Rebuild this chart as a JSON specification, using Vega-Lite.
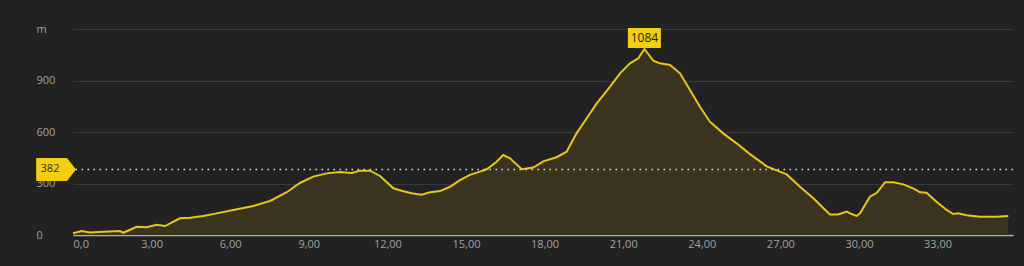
{
  "$schema": "https://vega.github.io/schema/vega-lite/v6.json",
  "width": 940,
  "height": 206,
  "autosize": {"type": "none"},
  "padding": {"left": 73, "top": 29, "right": 11, "bottom": 31},
  "background": "#222222",
  "config": {
    "view": {"stroke": null},
    "font": "Open Sans"
  },
  "datasets": {
    "profile": [
      {"km": 0, "elev": 10}, {"km": 0.33, "elev": 23}, {"km": 0.65, "elev": 14}, {"km": 1.16, "elev": 19},
      {"km": 1.79, "elev": 23}, {"km": 1.92, "elev": 13}, {"km": 2.43, "elev": 48}, {"km": 2.81, "elev": 45},
      {"km": 3.19, "elev": 60}, {"km": 3.51, "elev": 52}, {"km": 4.08, "elev": 97}, {"km": 4.47, "elev": 101},
      {"km": 4.97, "elev": 111}, {"km": 5.48, "elev": 126}, {"km": 6.12, "elev": 146}, {"km": 6.88, "elev": 169},
      {"km": 7.52, "elev": 198}, {"km": 8.16, "elev": 249}, {"km": 8.66, "elev": 303}, {"km": 9.17, "elev": 340},
      {"km": 9.68, "elev": 359}, {"km": 10.19, "elev": 367}, {"km": 10.64, "elev": 361}, {"km": 10.95, "elev": 375},
      {"km": 11.34, "elev": 375}, {"km": 11.72, "elev": 344}, {"km": 12.23, "elev": 272}, {"km": 12.54, "elev": 258},
      {"km": 12.93, "elev": 243}, {"km": 13.31, "elev": 235}, {"km": 13.63, "elev": 249}, {"km": 14.01, "elev": 256},
      {"km": 14.39, "elev": 281}, {"km": 14.77, "elev": 320}, {"km": 15.15, "elev": 350}, {"km": 15.53, "elev": 369},
      {"km": 15.79, "elev": 383}, {"km": 16.17, "elev": 427}, {"km": 16.42, "elev": 466}, {"km": 16.68, "elev": 447},
      {"km": 17.13, "elev": 383}, {"km": 17.57, "elev": 393}, {"km": 17.95, "elev": 429}, {"km": 18.46, "elev": 453},
      {"km": 18.84, "elev": 485}, {"km": 19.22, "elev": 592}, {"km": 19.61, "elev": 680}, {"km": 19.99, "elev": 767},
      {"km": 20.5, "elev": 864}, {"km": 20.88, "elev": 942}, {"km": 21.26, "elev": 1000}, {"km": 21.58, "elev": 1029},
      {"km": 21.81, "elev": 1084}, {"km": 22.15, "elev": 1015}, {"km": 22.4, "elev": 1000}, {"km": 22.79, "elev": 990},
      {"km": 23.17, "elev": 942}, {"km": 23.55, "elev": 845}, {"km": 23.93, "elev": 747}, {"km": 24.31, "elev": 660},
      {"km": 24.82, "elev": 592}, {"km": 25.33, "elev": 534}, {"km": 25.84, "elev": 471}, {"km": 26.48, "elev": 400},
      {"km": 26.98, "elev": 369}, {"km": 27.24, "elev": 353}, {"km": 27.75, "elev": 281}, {"km": 28.26, "elev": 214},
      {"km": 28.89, "elev": 120}, {"km": 29.21, "elev": 120}, {"km": 29.53, "elev": 136}, {"km": 29.72, "elev": 122},
      {"km": 29.91, "elev": 111}, {"km": 30.04, "elev": 126}, {"km": 30.42, "elev": 223}, {"km": 30.68, "elev": 246},
      {"km": 31.0, "elev": 307}, {"km": 31.31, "elev": 307}, {"km": 31.69, "elev": 295}, {"km": 32.07, "elev": 272},
      {"km": 32.33, "elev": 249}, {"km": 32.58, "elev": 246}, {"km": 32.96, "elev": 194}, {"km": 33.35, "elev": 146},
      {"km": 33.6, "elev": 122}, {"km": 33.79, "elev": 126}, {"km": 34.11, "elev": 115}, {"km": 34.62, "elev": 107},
      {"km": 35.26, "elev": 107}, {"km": 35.7, "elev": 111}
    ],
    "peak": [{"km": 21.81, "elev": 1084, "label": "1084"}],
    "avg": [{"km": 0, "elev": 382, "label": "382"}]
  },
  "layer": [
    {
      "data": {"name": "profile"},
      "mark": {"type": "area", "color": "#393320", "opacity": 1},
      "encoding": {
        "x": {
          "field": "km", "type": "quantitative",
          "scale": {"domain": [0, 35.88], "nice": false, "zero": false},
          "axis": {
            "title": null,
            "values": [0, 3, 6, 9, 12, 15, 18, 21, 24, 27, 30, 33],
            "labelExpr": "datum.value == 0 ? '0,0' : replace(format(datum.value, '.2f'), '.', ',')",
            "labelFlush": true,
            "labelColor": "#a0a0a0",
            "labelFontSize": 11,
            "labelPadding": 3,
            "ticks": false,
            "tickSize": 0,
            "grid": false,
            "domainColor": "#b0b0b0",
            "domainWidth": 1.5
          }
        },
        "y": {
          "field": "elev", "type": "quantitative",
          "scale": {"domain": [0, 1200], "nice": false},
          "axis": {
            "title": null,
            "values": [0, 300, 600, 900, 1200],
            "labelExpr": "datum.value == 1200 ? 'm' : datum.label",
            "labelAlign": "left",
            "labelBaseline": "middle",
            "labelPadding": 37,
            "labelColor": "#a0a0a0",
            "labelFontSize": 11,
            "ticks": false,
            "tickSize": 0,
            "domain": false,
            "grid": true,
            "gridColor": "#393939",
            "gridWidth": 1
          }
        }
      }
    },
    {
      "data": {"name": "profile"},
      "mark": {"type": "line", "color": "#e6c61a", "strokeWidth": 2},
      "encoding": {
        "x": {"field": "km", "type": "quantitative"},
        "y": {"field": "elev", "type": "quantitative"}
      }
    },
    {
      "data": {"name": "avg"},
      "mark": {"type": "rule", "color": "#e0e0e0", "strokeWidth": 1.5, "strokeDash": [1.5, 4.5]},
      "encoding": {
        "y": {"field": "elev", "type": "quantitative"}
      }
    },
    {
      "data": {"name": "avg"},
      "mark": {
        "type": "point", "filled": true, "opacity": 1, "color": "#f2cf12", "strokeWidth": 0, "size": 529,
        "shape": "M -3.2 -1 L -0.52 -1 L 0.26 0 L -0.52 1 L -3.2 1 Z"
      },
      "encoding": {
        "x": {"field": "km", "type": "quantitative"},
        "y": {"field": "elev", "type": "quantitative"}
      }
    },
    {
      "data": {"name": "avg"},
      "mark": {"type": "text", "dx": -23, "fontSize": 11, "color": "#333333", "baseline": "middle", "align": "center"},
      "encoding": {
        "x": {"field": "km", "type": "quantitative"},
        "y": {"field": "elev", "type": "quantitative"},
        "text": {"field": "label"}
      }
    },
    {
      "data": {"name": "peak"},
      "mark": {
        "type": "point", "filled": true, "opacity": 1, "color": "#f2cf12", "strokeWidth": 0, "size": 400,
        "shape": "M -1.65 -2.1 L 1.65 -2.1 L 1.65 -0.1 L -1.65 -0.1 Z"
      },
      "encoding": {
        "x": {"field": "km", "type": "quantitative"},
        "y": {"field": "elev", "type": "quantitative"}
      }
    },
    {
      "data": {"name": "peak"},
      "mark": {"type": "text", "dy": -11, "fontSize": 12, "color": "#222222", "baseline": "middle", "align": "center"},
      "encoding": {
        "x": {"field": "km", "type": "quantitative"},
        "y": {"field": "elev", "type": "quantitative"},
        "text": {"field": "label"}
      }
    }
  ]
}
